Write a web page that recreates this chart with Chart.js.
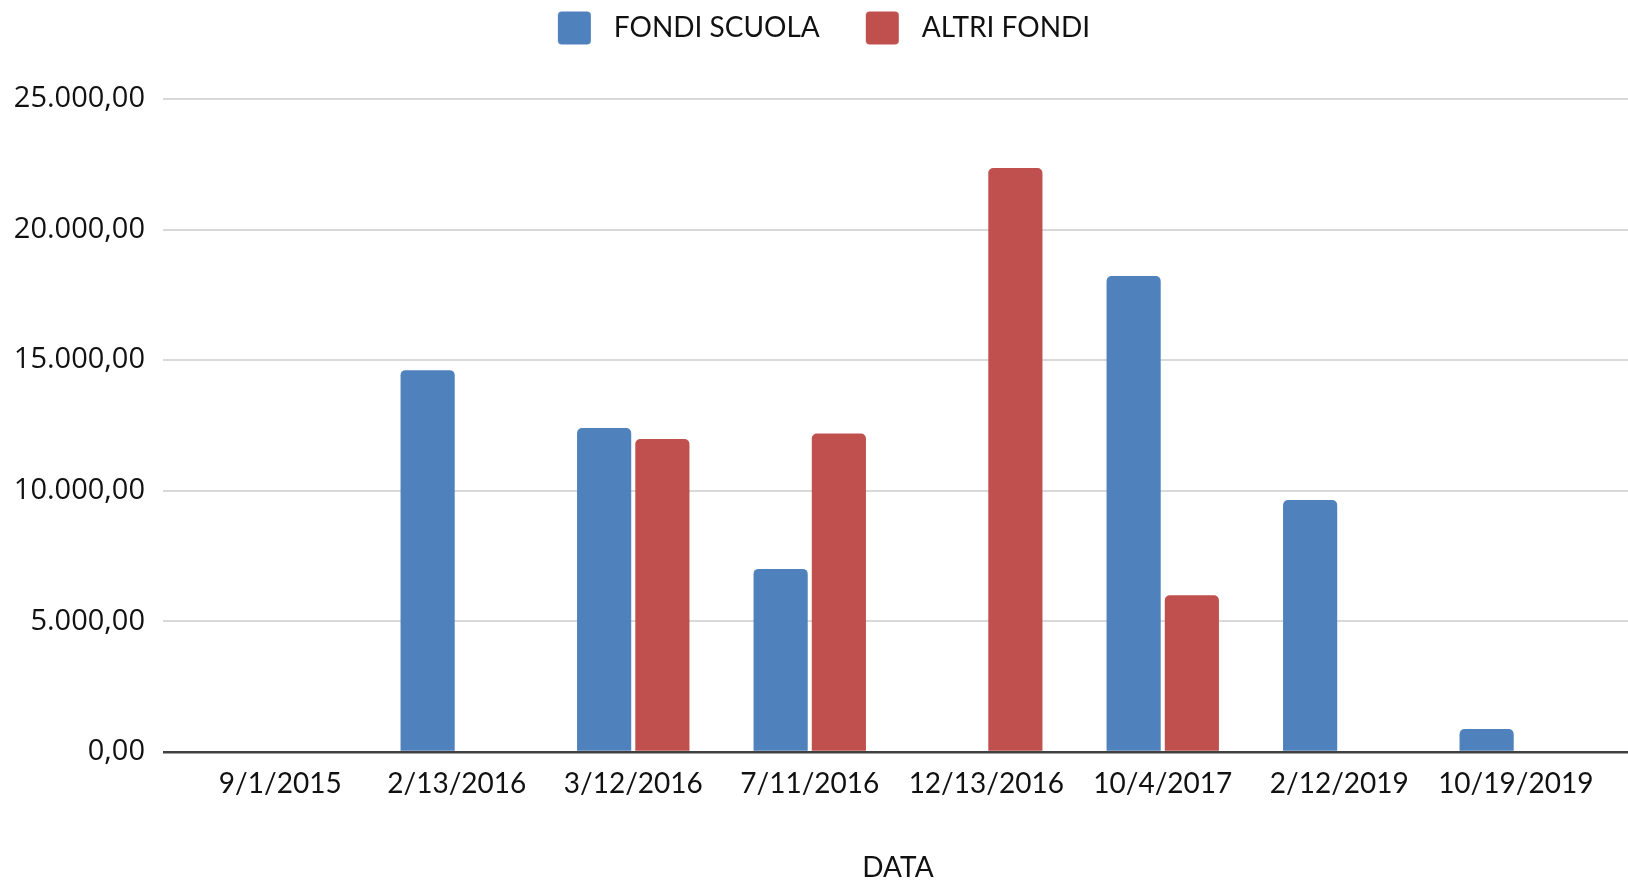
<!DOCTYPE html>
<html>
<head>
<meta charset="utf-8">
<script src="https://cdn.jsdelivr.net/npm/chart.js@4/dist/chart.umd.min.js"></script>
<style>
  html, body { margin: 0; padding: 0; background: #ffffff; }
  #wrap { width: 1628px; height: 880px; }
</style>
</head>
<body>
<div id="wrap"><canvas id="c" width="1628" height="880"></canvas></div>
<script>
// ---- data ----
const categories = ['9/1/2015', '2/13/2016', '3/12/2016', '7/11/2016', '12/13/2016', '10/4/2017', '2/12/2019', '10/19/2019'];
const fondiScuola = [0, 14620, 12400, 7010, 0, 18220, 9650, 880];
const altriFondi = [0, 0, 11980, 12190, 22360, 6000, 0, 0];
const seriesNames = ['FONDI SCUOLA', 'ALTRI FONDI'];
const yTickValues = [0, 5000, 10000, 15000, 20000, 25000];
const yTickLabels = ['0,00', '5.000,00', '10.000,00', '15.000,00', '20.000,00', '25.000,00'];
const xTitle = 'DATA';

// ---- styles ----
const BLUE = '#4F81BD';
const RED = '#C0504D';
const GRID = '#d9d9d9';
const ZERO = '#404040';

function legendSwatch(color) {
  const W = 78, H = 34, L = 36, S = 33;
  const cv = document.createElement('canvas');
  cv.width = W; cv.height = H;
  const g = cv.getContext('2d');
  g.fillStyle = color;
  const x = L, y = (H - S) / 2, r = 4;
  g.beginPath();
  g.moveTo(x + r, y);
  g.lineTo(x + S - r, y); g.quadraticCurveTo(x + S, y, x + S, y + r);
  g.lineTo(x + S, y + S - r); g.quadraticCurveTo(x + S, y + S, x + S - r, y + S);
  g.lineTo(x + r, y + S); g.quadraticCurveTo(x, y + S, x, y + S - r);
  g.lineTo(x, y + r); g.quadraticCurveTo(x, y, x + r, y);
  g.closePath(); g.fill();
  return cv;
}
const swatches = [legendSwatch(BLUE), legendSwatch(RED)];

const gridColor = (ctx) => (ctx.tick && ctx.tick.value === 0 ? ZERO : GRID);
const gridWidth = (ctx) => (ctx.tick && ctx.tick.value === 0 ? 2.5 : 2);
const yLabel = (v) => { const i = yTickValues.indexOf(v); return i >= 0 ? yTickLabels[i] : ''; };

// extra space below the legend (legend items stay at the top) and a small left shift
const legendSpacer = {
  id: 'legendSpacer',
  beforeLayout(chart) {
    const lg = chart.legend;
    if (lg && !lg.__patched) {
      const orig = lg.fit;
      lg.fit = function () {
        orig.call(this);
        this.height += 47;
        if (this.lineWidths && this.lineWidths.length) this.lineWidths[0] += 16;
      };
      lg.__patched = true;
    }
  }
};

new Chart(document.getElementById('c'), {
  type: 'bar',
  data: {
    labels: categories,
    datasets: [
      { label: seriesNames[0], data: fondiScuola, backgroundColor: BLUE },
      { label: seriesNames[1], data: altriFondi, backgroundColor: RED }
    ]
  },
  plugins: [legendSpacer],
  options: {
    responsive: false,
    animation: false,
    devicePixelRatio: 1,
    layout: { padding: { left: 0, right: 0, top: 4, bottom: 0 } },
    datasets: {
      bar: {
        categoryPercentage: 0.66,
        barPercentage: 0.93,
        borderRadius: { topLeft: 5, topRight: 5, bottomLeft: 0, bottomRight: 0 },
        borderSkipped: 'bottom'
      }
    },
    plugins: {
      tooltip: { enabled: false },
      legend: {
        position: 'top',
        align: 'center',
        labels: {
          usePointStyle: true,
          pointStyleWidth: 78,
          padding: 10,
          color: '#111111',
          font: { family: 'Lato', size: 28 },
          generateLabels(chart) {
            const items = Chart.defaults.plugins.legend.labels.generateLabels(chart);
            items.forEach((it, i) => { it.pointStyle = swatches[i]; });
            return items;
          }
        }
      }
    },
    scales: {
      x: {
        grid: { display: false },
        border: { display: false },
        ticks: { color: '#111111', font: { family: 'Lato', size: 28, lineHeight: 1.2 }, padding: 7, maxRotation: 0, autoSkip: false },
        title: { display: true, text: xTitle, color: '#111111', font: { family: 'Lato', size: 28, lineHeight: 0.85 }, padding: { top: 0, bottom: 0 } },
        afterFit(scale) { scale.height = 128; }
      },
      y: {
        position: 'left',
        min: 0, max: 25000,
        border: { display: false },
        grid: { color: gridColor, lineWidth: gridWidth, drawTicks: true, tickLength: 29, tickColor: gridColor, tickWidth: gridWidth },
        ticks: { stepSize: 5000, padding: 18, color: '#111111', font: { family: 'Open Sans', size: 29 }, callback: yLabel },
        afterFit(scale) { scale.width = 192; }
      },
      y2: {
        position: 'right',
        min: 0, max: 25000,
        border: { display: false },
        grid: { color: gridColor, lineWidth: gridWidth, drawOnChartArea: false, drawTicks: true, tickLength: 24, tickColor: gridColor, tickWidth: gridWidth },
        ticks: { display: false, stepSize: 5000 },
        afterFit(scale) { scale.width = 24; }
      }
    }
  }
});
</script>
</body>
</html>
